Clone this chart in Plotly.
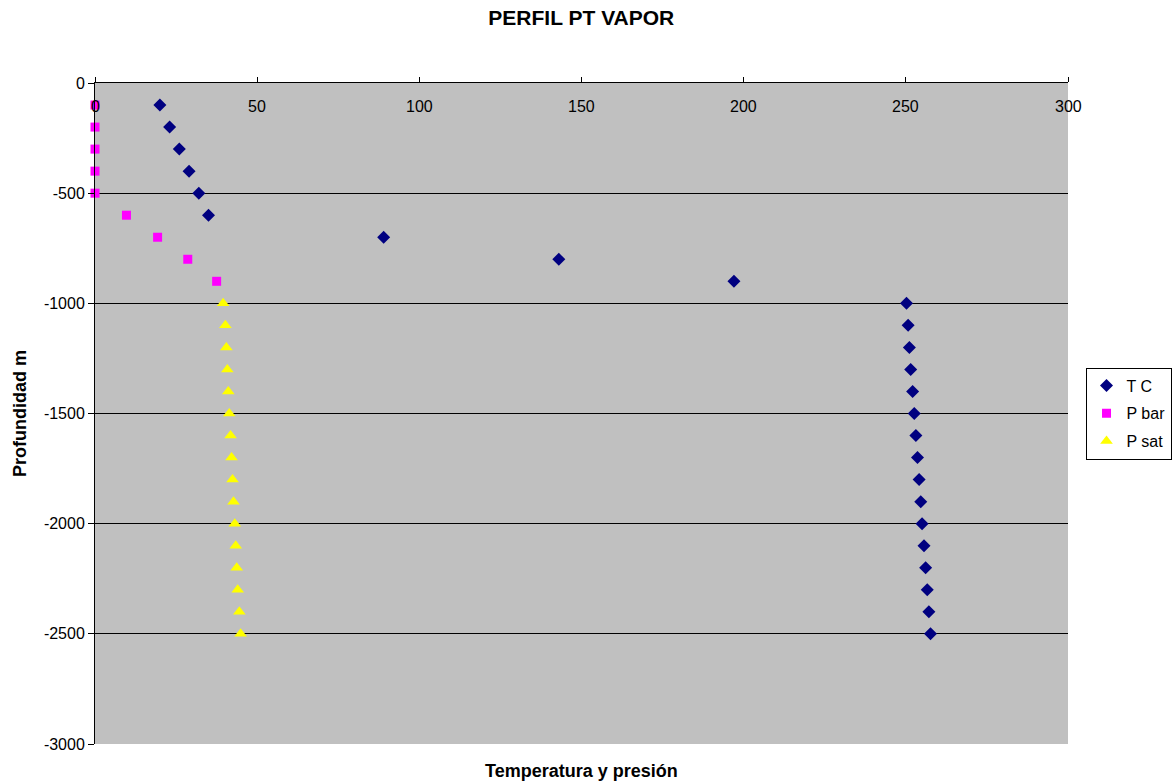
import plotly.graph_objects as go

# Depth profile (m) and measured values
depth_tc = [-100, -200, -300, -400, -500, -600, -700, -800, -900, -1000,
            -1100, -1200, -1300, -1400, -1500, -1600, -1700, -1800, -1900,
            -2000, -2100, -2200, -2300, -2400, -2500]
temp_c = [20, 23, 26, 29, 32, 35, 89, 143, 197, 250.2,
          250.7, 251.1, 251.5, 252.1, 252.6, 253.1, 253.6, 254.1, 254.6,
          255.0, 255.6, 256.1, 256.6, 257.1, 257.6]

depth_pbar = [-100, -200, -300, -400, -500, -600, -700, -800, -900]
p_bar = [0, 0, 0, 0, 0, 9.7, 19.3, 28.6, 37.5]

depth_psat = [-1000, -1100, -1200, -1300, -1400, -1500, -1600, -1700,
              -1800, -1900, -2000, -2100, -2200, -2300, -2400, -2500]
p_sat = [39.5, 40.2, 40.5, 40.8, 41.1, 41.4, 41.8, 42.1,
         42.4, 42.7, 43.1, 43.4, 43.7, 44.0, 44.5, 44.9]

x_ticks = [0, 50, 100, 150, 200, 250, 300]
y_ticks = [0, -500, -1000, -1500, -2000, -2500, -3000]

font = "Liberation Sans, Arial, sans-serif"

fig = go.Figure()
fig.add_trace(go.Scatter(
    x=temp_c, y=depth_tc, mode="markers", name="T C", legendgroup="tc",
    cliponaxis=False,
    marker=dict(symbol="diamond", size=10, color="#000080"),
))
fig.add_trace(go.Scatter(
    x=p_bar, y=depth_pbar, mode="markers", name="P bar", legendgroup="pbar",
    cliponaxis=False,
    marker=dict(symbol="square", size=9, color="#FF00FF"),
))
fig.add_trace(go.Scatter(
    x=p_sat, y=depth_psat, mode="markers", name="P sat", legendgroup="psat",
    cliponaxis=False,
    marker=dict(symbol="triangle-up", size=11, color="#FFFF00"),
))

# x tick labels sit just below the top axis line, inside the plot area
x_labels = [dict(text=str(v), x=v, xref="x", y=1, yref="paper",
                 yanchor="middle", yshift=-23, showarrow=False,
                 font=dict(size=16))
            for v in x_ticks]

fig.update_layout(
    width=1172, height=784,
    margin=dict(l=95, r=104, t=83, b=40, autoexpand=False),
    paper_bgcolor="white",
    plot_bgcolor="#C0C0C0",
    font=dict(family=font, size=16, color="black"),
    title=dict(text="<b>PERFIL PT VAPOR</b>", x=0.496, xanchor="center",
               y=0.977, yanchor="middle", font=dict(size=21)),
    showlegend=True,
    legend=dict(x=1.018, xanchor="left", y=0.5, yanchor="middle",
                bgcolor="white", bordercolor="black", borderwidth=1,
                font=dict(size=16), itemwidth=30, tracegroupgap=4),
    xaxis=dict(
        range=[0, 300], side="top", tickvals=x_ticks,
        showticklabels=False,
        ticks="outside", ticklen=5, tickcolor="black",
        showline=True, linecolor="black", linewidth=1,
        showgrid=False, zeroline=False,
    ),
    yaxis=dict(
        range=[-3000, 0], tickvals=y_ticks,
        ticktext=[str(v) for v in y_ticks],
        ticks="outside", ticklen=6, tickcolor="black",
        showline=True, linecolor="black", linewidth=1,
        showgrid=True, gridcolor="black", gridwidth=1,
        zeroline=False,
        title=dict(text="<b>Profundidad m</b>", font=dict(size=18), standoff=12),
    ),
    annotations=x_labels + [dict(
        text="<b>Temperatura y presión</b>", x=0.5, xref="paper",
        y=0, yref="paper", yanchor="middle", yshift=-27, showarrow=False,
        font=dict(size=18),
    )],
)

fig.write_html("out.html")
